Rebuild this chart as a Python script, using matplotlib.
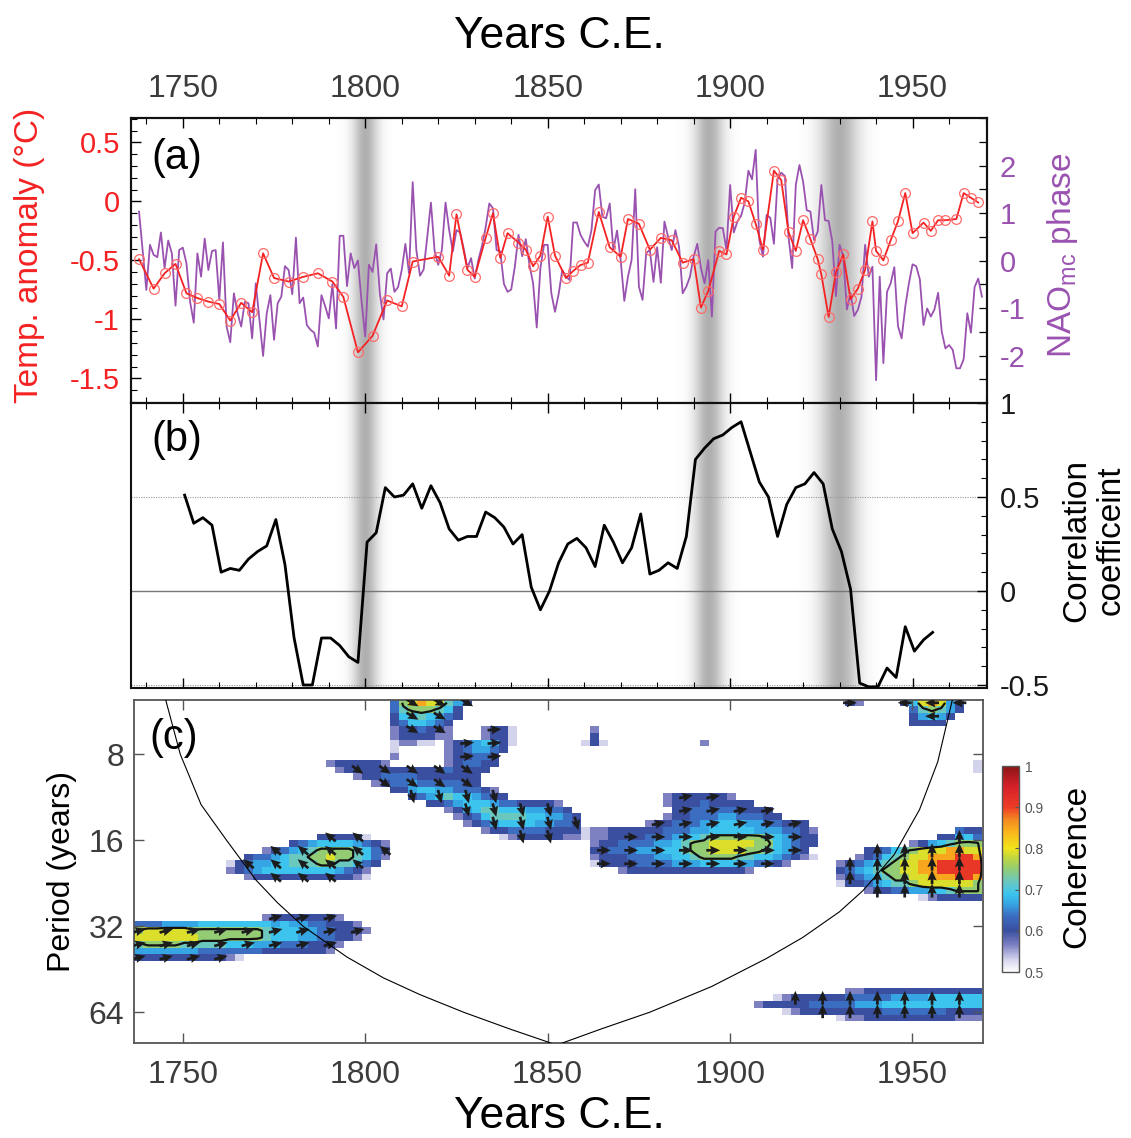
import numpy as np
import matplotlib
matplotlib.use("Agg")
import matplotlib.pyplot as plt
from matplotlib.colors import LinearSegmentedColormap
from matplotlib.ticker import MultipleLocator, FuncFormatter, NullLocator, FixedLocator

plt.rcParams['font.family'] = ['Liberation Sans', 'DejaVu Sans']
plt.rcParams['mathtext.default'] = 'regular'

# ---------------- (a) temperature anomaly (red, irregular sampling)
temp_years = [1738, 1742, 1745, 1748, 1751, 1754, 1757, 1760, 1763, 1766, 1769, 1772,
              1775, 1779, 1783, 1787, 1791, 1794, 1798, 1802, 1806, 1810, 1813, 1820,
              1823, 1825, 1828, 1830, 1833, 1835, 1837, 1839, 1842, 1844, 1846, 1848,
              1850, 1852, 1855, 1857, 1859, 1861, 1864, 1867, 1870, 1872, 1875, 1878,
              1881, 1884, 1887, 1890, 1892, 1894, 1897, 1899, 1901, 1903, 1905, 1907,
              1909, 1912, 1914, 1916, 1918, 1920, 1922, 1924, 1925, 1927, 1929, 1931,
              1933, 1935, 1937, 1939, 1940, 1942, 1944, 1946, 1948, 1950, 1953, 1955,
              1957, 1959, 1962, 1964, 1966, 1968]
temp_anom = [-0.49, -0.74, -0.61, -0.53, -0.78, -0.82, -0.85, -0.87, -1.01, -0.86, -0.94, -0.44,
             -0.65, -0.68, -0.64, -0.61, -0.68, -0.81, -1.28, -1.14, -0.84, -0.89, -0.51, -0.47,
             -0.63, -0.11, -0.58, -0.64, -0.31, -0.10, -0.48, -0.27, -0.35, -0.41, -0.55, -0.46,
             -0.13, -0.46, -0.65, -0.59, -0.54, -0.52, -0.09, -0.39, -0.47, -0.15, -0.19, -0.41,
             -0.31, -0.33, -0.52, -0.49, -0.90, -0.76, -0.42, -0.45, -0.13, 0.03, 0.00, -0.19,
             -0.41, 0.26, 0.18, -0.26, -0.42, -0.16, -0.32, -0.49, -0.62, -0.98, -0.60, -0.45,
             -0.83, -0.74, -0.58, -0.17, -0.42, -0.50, -0.33, -0.17, 0.07, -0.27, -0.18, -0.25,
             -0.16, -0.16, -0.15, 0.07, 0.03, -0.01]

# ---------------- (a) NAO_mc phase (purple, annual from 1738)
nao_first_year = 1738
nao_phase = [1.03, 0.20, -0.62, 0.33, 0.12, 0.07, 0.59, -0.16, 0.42, 0.15,
             -0.95, 0.22, 0.27, -0.06, -0.87, -1.31, 0.15, -0.34, 0.46, -0.20,
             0.20, 0.22, -0.83, 0.38, -1.39, -1.72, -0.69, -1.11, -1.39, -0.87,
             -0.90, -1.64, -0.48, -1.24, -2.01, -1.11, -0.73, -1.67, -0.90, -0.76,
             -0.12, -0.20, -0.71, 0.48, -0.90, -0.78, -1.36, -1.46, -1.52, -1.81,
             -0.73, -0.96, -1.22, -0.50, -1.43, 0.52, 0.52, -0.54, 0.15, -0.16,
             0.00, -0.87, -1.60, -0.09, -0.24, 0.34, -0.69, -1.24, -0.27, -0.17,
             -0.66, -0.56, -0.20, 0.35, -0.27, 1.65, 0.22, -0.32, -0.19, 0.50,
             1.22, 0.21, -0.09, 0.22, 1.22, 0.64, 0.19, 0.64, 0.59, 0.24,
             -0.16, 0.05, -0.38, 0.01, 0.31, 0.70, 1.20, 1.10, 0.22, 0.19,
             -0.49, -0.66, -0.61, -0.13, 0.54, 0.09, 0.45, -0.09, -0.48, -1.41,
             -0.16, 0.33, 0.33, -0.69, -1.08, -0.71, -0.20, -0.34, -0.41, 0.80,
             0.80, 0.54, 0.40, 0.29, 0.64, 1.48, 1.60, 0.92, 0.89, 1.20,
             0.22, 0.63, 0.01, -0.85, -0.34, 0.01, 1.50, -0.55, -0.83, 0.16,
             0.22, -0.45, 0.28, -0.47, 0.82, 0.50, 0.22, 0.64, 0.29, -0.69,
             -0.55, -0.34, 0.08, 0.35, -0.16, -0.48, 0.01, -1.18, 0.61, 0.69,
             0.68, 0.22, 1.59, 0.59, 0.82, 0.94, 1.22, 1.89, 1.71, 2.33,
             0.43, 0.08, 0.96, 0.90, 0.35, 1.71, 1.85, 1.78, 0.50, -0.16,
             1.59, 2.01, 1.66, 1.06, 1.03, 0.43, 0.61, 1.59, 0.85, 0.83,
             0.40, -0.75, 0.33, 0.08, -1.03, -0.69, -1.17, -1.04, -0.76, 0.33,
             -0.34, -0.13, -2.52, -0.34, -2.16, -0.66, -0.48, -0.14, -1.38, -1.64,
             -0.97, -0.48, -0.08, -0.12, -0.40, -1.36, -1.01, -1.18, -1.03, -0.68,
             -1.50, -1.85, -1.78, -1.88, -2.27, -2.27, -2.08, -1.11, -1.52, -0.56,
             -0.38, -0.76]
nao_years = np.arange(nao_first_year, nao_first_year + len(nao_phase))

# ---------------- (b) running correlation
corr_years = [1750.5, 1753, 1755.5, 1758, 1760.5, 1763, 1765.5, 1768, 1770.5, 1773,
              1775.5, 1778, 1780.5, 1783, 1785.5, 1788, 1790.5, 1793, 1795.5, 1798,
              1800.5, 1803, 1805.5, 1808, 1810.5, 1813, 1815.5, 1818, 1820.5, 1823,
              1825.5, 1828, 1830.5, 1833, 1835.5, 1838, 1840.5, 1843, 1845.5, 1848,
              1850.5, 1853, 1855.5, 1858, 1860.5, 1863, 1865.5, 1868, 1870.5, 1873,
              1875.5, 1878, 1880.5, 1883, 1885.5, 1888, 1890.5, 1893, 1895.5, 1898,
              1900.5, 1903, 1905.5, 1908, 1910.5, 1913, 1915.5, 1918, 1920.5, 1923,
              1925.5, 1928, 1930.5, 1933, 1935.5, 1938, 1940.5, 1943, 1945.5, 1948,
              1950.5, 1953, 1955.5]
corr_coef = [0.51, 0.36, 0.39, 0.35, 0.10, 0.12, 0.11, 0.17, 0.21, 0.24,
             0.38, 0.14, -0.25, -0.50, -0.50, -0.25, -0.25, -0.29, -0.35, -0.38,
             0.26, 0.31, 0.55, 0.50, 0.51, 0.57, 0.44, 0.56, 0.47, 0.33,
             0.27, 0.29, 0.29, 0.42, 0.39, 0.34, 0.25, 0.30, 0.02, -0.10,
             0.00, 0.15, 0.25, 0.28, 0.23, 0.13, 0.35, 0.26, 0.15, 0.23,
             0.41, 0.09, 0.11, 0.15, 0.12, 0.29, 0.70, 0.76, 0.81, 0.83,
             0.87, 0.90, 0.74, 0.58, 0.50, 0.29, 0.46, 0.55, 0.57, 0.63,
             0.57, 0.33, 0.21, 0.01, -0.49, -0.51, -0.51, -0.41, -0.46, -0.19,
             -0.32, -0.26, -0.22]

# shaded event years (centre, spread in years)
event_years = [1800, 1894, 1930]
event_spread = [2.4, 2.8, 3.7]

# ---------------- (c) wavelet coherence, read cell by cell
# grid: 2.5-yr columns, rows of 0.078 octave from the top of the panel
code_values = dict(zip("0123456789R",
                       [0.53, 0.565, 0.60, 0.635, 0.665, 0.69, 0.72, 0.75, 0.79, 0.85, 0.91]))

top_blob = [(0, 28, "378988642"), (1, 28, "36777652"), (2, 28, "25565432"),
            (3, 28, "2355432"), (4, 28, "1223221"), (5, 28, "1222211"),
            (6, 28, "01100"), (7, 28, "0"), (8, 28, "1")]
branch_blob = [(4, 38, "1220"), (5, 38, "1220"), (6, 34, "12345420"),
               (7, 34, "1234432"), (8, 34, "122332"), (9, 34, "123322")]
diag_upper = [(9, 21, "1222221"), (10, 22, "12222222222232222"),
              (11, 24, "12233332222222"), (12, 26, "123343333322"),
              (13, 28, "224554433321")]
diag_lower = [(14, 30, "23456554322"), (15, 32, "223455543322221"),
              (16, 34, "12456655544332"), (17, 35, "12356666554432"),
              (18, 36, "1234555544332"), (19, 38, "122333322221"),
              (20, 40, "0122222110")]
small_blob = [(20, 20, "222220"), (21, 17, "23455554321"),
              (22, 14, "12345677776532"), (23, 12, "2334566778776531"),
              (24, 10, "02344556667766532"), (25, 10, "1234555555554321"),
              (26, 12, "12222222222210")]
band32_blob = [(32, 14, "122222221"), (33, 0, "3334444555555554544332221"),
               (34, 0, "78888877777777655544332221"),
               (35, 0, "8888888777777765554433221"),
               (36, 0, "67777666665554443332221"),
               (37, 0, "4444444333333322222221"), (38, 0, "222222222210")]
big_upper = [(14, 58, "12222221"), (15, 58, "1222322222"), (16, 59, "22333332222"),
             (17, 58, "1223334433322"), (18, 56, "122333445554433222")]
big_main = [(19, 49, "01122222233344555554443321"),
            (20, 50, "1122223334556777777654322"),
            (21, 50, "1223333445677888887754322"),
            (22, 50, "223334445567788887765432"),
            (23, 50, "1222333445567777665543210"),
            (24, 50, "0222233334445555443321"),
            (25, 53, "122222222222221")]
right_blob = [(19, 90, "322"), (20, 88, "22453"), (21, 85, "12456777"),
              (22, 80, "2235678889988"), (23, 79, "12356788999RR9"),
              (24, 77, "12345678899RRRRR"), (25, 77, "23456778899RRRRR"),
              (26, 77, "1234567788999RR9"), (27, 77, "0223456678888887"),
              (28, 80, "1223344556777"), (29, 86, "0122222")]
bottom_band = [(43, 78, "112222222222222"), (44, 70, "01222222333334444555555"),
               (45, 68, "1222223333344455555555555"),
               (46, 71, "0122222222233333332222"), (47, 77, "0112222222222111")]
corner_blob = [(0, 84, "2589842"), (1, 85, "367642"), (2, 85, "24542"), (3, 85, "2222")]
specks = [(0, 78, "21"), (4, 50, "1"), (5, 50, "2"), (6, 49, "020"), (6, 62, "1"),
          (9, 92, "0"), (10, 92, "0")]

# phase angle of the arrows in each region (degrees, 0 = right, 90 = up)
phase_top, phase_branch, phase_diag_up, phase_diag_low = -30, 5, -35, -75
phase_small, phase_band32, phase_big_up, phase_big = 140, 15, 12, 0
phase_right, phase_bottom, phase_corner, phase_specks = 90, 90, 180, 0

# cone of influence
coi_years = [1745.3, 1749.3, 1755, 1762, 1770, 1776, 1783, 1795, 1805, 1815, 1827, 1840,
             1851.5, 1853.5, 1865, 1878, 1895, 1910, 1920, 1930, 1936.5, 1945, 1952, 1957, 1961]
coi_periods = [5.16, 8, 12, 16, 22, 26.5, 32, 41, 48.5, 55.5, 64, 73.5,
               82.5, 82.5, 73, 64, 52, 41.5, 35, 28.5, 24, 18, 12.5, 8.5, 5.16]

# ---------------- layout
W, H = 1131, 1138
fig = plt.figure(figsize=(W / 100, H / 100), dpi=100)

def frac(x0, y0, x1, y1):
    return [x0 / W, 1 - y1 / H, (x1 - x0) / W, (y1 - y0) / H]

ax_a = fig.add_axes(frac(131, 118, 987, 403))
ax_n = ax_a.twinx()
ax_b = fig.add_axes(frac(131, 403, 987, 688))
ax_c = fig.add_axes(frac(134, 700, 983.3, 1043))
cax = fig.add_axes(frac(1002, 766, 1019, 972))

red = '#f42222'
purple = '#9a52b0'
gray_txt = '#3c3c3c'
fmt = FuncFormatter(lambda v, p: '%g' % (0 if abs(v) < 1e-9 else v))
xlim_ab = (1735.8, 1970.4)


def draw_band(ax, centre, spread, y0, y1):
    xs = np.linspace(centre - 3.2 * spread, centre + 3.2 * spread, 161)
    img = np.zeros((1, xs.size, 4))
    img[..., :3] = 0.48
    img[..., 3] = 0.60 * np.exp(-0.5 * ((xs - centre) / spread) ** 2)
    ax.imshow(img, extent=[xs[0], xs[-1], y0, y1], aspect='auto',
              interpolation='bilinear', zorder=0)


# ---------------- panel (a)
ax_a.set_zorder(ax_n.get_zorder() + 1)
ax_a.patch.set_visible(False)
for c, s in zip(event_years, event_spread):
    draw_band(ax_n, c, s, -3, 3)
ax_n.plot(nao_years, nao_phase, color=purple, lw=1.3, zorder=2)
ax_a.plot(temp_years, temp_anom, color=red, lw=1.3, marker='o', ms=7,
          mfc='none', mec='#ff6a6a', mew=0.9, zorder=3)

ax_a.set_xlim(*xlim_ab)
ax_n.set_xlim(*xlim_ab)
ax_a.set_ylim(-1.709, 0.706)
ax_n.set_ylim(-3, 3)

ax_a.xaxis.set_major_locator(MultipleLocator(50))
ax_a.xaxis.set_minor_locator(MultipleLocator(10))
ax_a.yaxis.set_major_locator(MultipleLocator(0.5))
ax_a.yaxis.set_minor_locator(MultipleLocator(0.1))
ax_a.yaxis.set_major_formatter(fmt)
ax_a.tick_params(axis='x', which='both', direction='in', top=True, bottom=True,
                 labeltop=True, labelbottom=False, labelsize=23, labelcolor=gray_txt, pad=10)
ax_a.tick_params(axis='x', which='major', length=7, width=1)
ax_a.tick_params(axis='x', which='minor', length=4, width=0.8)
ax_a.tick_params(axis='y', which='both', direction='in', left=True, right=False,
                 labelsize=21, labelcolor=red, pad=8)
ax_a.tick_params(axis='y', which='major', length=7, width=1)
ax_a.tick_params(axis='y', which='minor', length=4, width=0.8)

ax_n.yaxis.set_major_locator(FixedLocator([-2, -1, 0, 1, 2]))
ax_n.yaxis.set_minor_locator(MultipleLocator(0.5))
ax_n.yaxis.set_major_formatter(fmt)
ax_n.tick_params(axis='y', which='both', direction='in', length=6, width=0.9,
                 labelsize=21, labelcolor=purple, pad=9)

ax_a.text(0.024, 0.86, '(a)', transform=ax_a.transAxes, fontsize=30,
          ha='left', va='center')

# ---------------- panel (b)
for c, s in zip(event_years, event_spread):
    draw_band(ax_b, c, s, -0.516, 1.0)
ax_b.axhline(0, color='#777777', lw=1.0, zorder=1)
for yv in (0.5, -0.5):
    ax_b.axhline(yv, color='#999999', lw=0.8, ls=(0, (1, 1.2)), zorder=1)
ax_b.plot(corr_years, corr_coef, color='black', lw=2.0, zorder=3)
ax_b.set_xlim(*xlim_ab)
ax_b.set_ylim(-0.516, 1.0)
ax_b.xaxis.set_major_locator(MultipleLocator(50))
ax_b.xaxis.set_minor_locator(MultipleLocator(10))
ax_b.tick_params(axis='x', which='both', direction='in', top=True, bottom=True,
                 labelbottom=False)
ax_b.tick_params(axis='x', which='major', length=7, width=1)
ax_b.tick_params(axis='x', which='minor', length=4, width=0.8)
ax_b.yaxis.tick_right()
ax_b.yaxis.set_major_locator(MultipleLocator(0.5))
ax_b.yaxis.set_minor_locator(MultipleLocator(0.1))
ax_b.yaxis.set_major_formatter(fmt)
ax_b.tick_params(axis='y', which='both', direction='in', left=False, right=True,
                 labelsize=21, labelcolor='#1a1a1a', pad=9)
ax_b.tick_params(axis='y', which='major', length=7, width=1)
ax_b.tick_params(axis='y', which='minor', length=4, width=0.8)
ax_b.text(0.024, 0.87, '(b)', transform=ax_b.transAxes, fontsize=30,
          ha='left', va='center')

for ax in (ax_a, ax_n, ax_b):
    for sp in ax.spines.values():
        sp.set_linewidth(1.5)
        sp.set_color('#111111')

# ---------------- panel (c)
n_cols, n_rows = 94, 53
x_origin, col_w = 1736.7, 2.5
lp_origin, row_h = 2.361, 0.078
coh = np.full((n_rows, n_cols), np.nan)
phase = np.full((n_rows, n_cols), np.nan)
regions = [(top_blob, phase_top), (branch_blob, phase_branch),
           (diag_upper, phase_diag_up), (diag_lower, phase_diag_low),
           (small_blob, phase_small), (band32_blob, phase_band32),
           (big_upper, phase_big_up), (big_main, phase_big),
           (right_blob, phase_right), (bottom_band, phase_bottom),
           (corner_blob, phase_corner), (specks, phase_specks)]
for rows, ang in regions:
    for k, j0, codes in rows:
        for i, ch in enumerate(codes):
            coh[k, j0 + i] = code_values[ch]
            phase[k, j0 + i] = ang

x_edges = x_origin + col_w * np.arange(n_cols + 1)
p_edges = 2.0 ** (lp_origin + row_h * np.arange(n_rows + 1))
x_mid = x_origin + col_w * (np.arange(n_cols) + 0.5)
p_mid = 2.0 ** (lp_origin + row_h * (np.arange(n_rows) + 0.5))

coh_cmap = LinearSegmentedColormap.from_list('coh', [
    (0.00, '#ffffff'), (0.06, '#d2d2ec'), (0.13, '#7c80c2'), (0.20, '#3a4fa0'),
    (0.27, '#3b6cc0'), (0.33, '#36a6e4'), (0.38, '#3cc4ee'), (0.44, '#6cc8be'),
    (0.50, '#92cc76'), (0.56, '#c4d83a'), (0.60, '#f2e41c'), (0.68, '#f9b61c'),
    (0.74, '#f48a22'), (0.80, '#ee3d26'), (0.90, '#d6202a'), (1.00, '#8c1616')])

mesh = ax_c.pcolormesh(x_edges, p_edges, np.ma.masked_invalid(coh), cmap=coh_cmap,
                       vmin=0.5, vmax=1.0, shading='flat', zorder=1)
ax_c.contour(x_mid, p_mid, np.nan_to_num(coh, nan=0.5), levels=[0.735],
             colors='#111111', linewidths=1.6, zorder=2)

kk, jj = np.meshgrid(np.arange(0, n_rows, 2), np.arange(0, n_cols, 3), indexing='ij')
sel = np.nan_to_num(coh[kk, jj], nan=0) >= 0.595
ang = np.deg2rad(phase[kk, jj][sel])
ax_c.quiver(x_mid[jj[sel]], p_mid[kk[sel]], np.cos(ang), np.sin(ang),
            angles='uv', scale_units='inches', scale=7.2, pivot='middle',
            width=0.0032, headwidth=3.4, headlength=3.8, headaxislength=3.4,
            color='#1c1c1c', zorder=3)

ax_c.plot(coi_years, coi_periods, color='black', lw=0.8, zorder=4)

ax_c.set_yscale('log', base=2)
ax_c.set_xlim(1736.6, 1969.5)
ax_c.set_ylim(82.0, 5.16)
ax_c.set_yticks([8, 16, 32, 64])
ax_c.set_yticklabels(['8', '16', '32', '64'])
ax_c.yaxis.set_minor_locator(NullLocator())
ax_c.xaxis.set_major_locator(MultipleLocator(50))
ax_c.tick_params(axis='both', which='both', direction='in', top=True, right=True,
                 length=7, width=1, labelsize=23, labelcolor=gray_txt, color='#555555')
ax_c.tick_params(axis='x', pad=12)
ax_c.tick_params(axis='y', pad=7)
for sp in ax_c.spines.values():
    sp.set_linewidth(1.3)
    sp.set_color('#555555')
ax_c.text(0.018, 0.89, '(c)', transform=ax_c.transAxes, fontsize=30,
          ha='left', va='center', zorder=5)

cb = fig.colorbar(mesh, cax=cax, ticks=[0.5, 0.6, 0.7, 0.8, 0.9, 1.0])
cb.ax.yaxis.set_major_formatter(fmt)
cb.ax.tick_params(direction='in', length=3, width=0.8, labelsize=10,
                  labelcolor='#555555', color='#555555', pad=4)
cb.outline.set_edgecolor('#555555')
cb.outline.set_linewidth(1.0)

# ---------------- labels
fig.text(559 / W, 1 - 36 / H, 'Years C.E.', fontsize=32, ha='center', va='center')
fig.text(559 / W, 1 - 1117 / H, 'Years C.E.', fontsize=32, ha='center', va='center')
fig.text(30 / W, 1 - 255 / H, 'Temp. anomaly (°C)', fontsize=24, color=red,
         rotation=90, ha='center', va='center')
fig.text(1062 / W, 1 - 255 / H, 'NAO$_{mc}$ phase', fontsize=24, color=purple,
         rotation=90, ha='center', va='center')
fig.text(1094 / W, 1 - 540 / H, 'Correlation\ncoefficeint', fontsize=24,
         rotation=90, ha='center', va='center', linespacing=1.15)
fig.text(62 / W, 1 - 871 / H, 'Period (years)', fontsize=23,
         rotation=90, ha='center', va='center')
fig.text(1077 / W, 1 - 866 / H, 'Coherence', fontsize=24,
         rotation=90, ha='center', va='center')

fig.savefig('out.png', dpi=100)
